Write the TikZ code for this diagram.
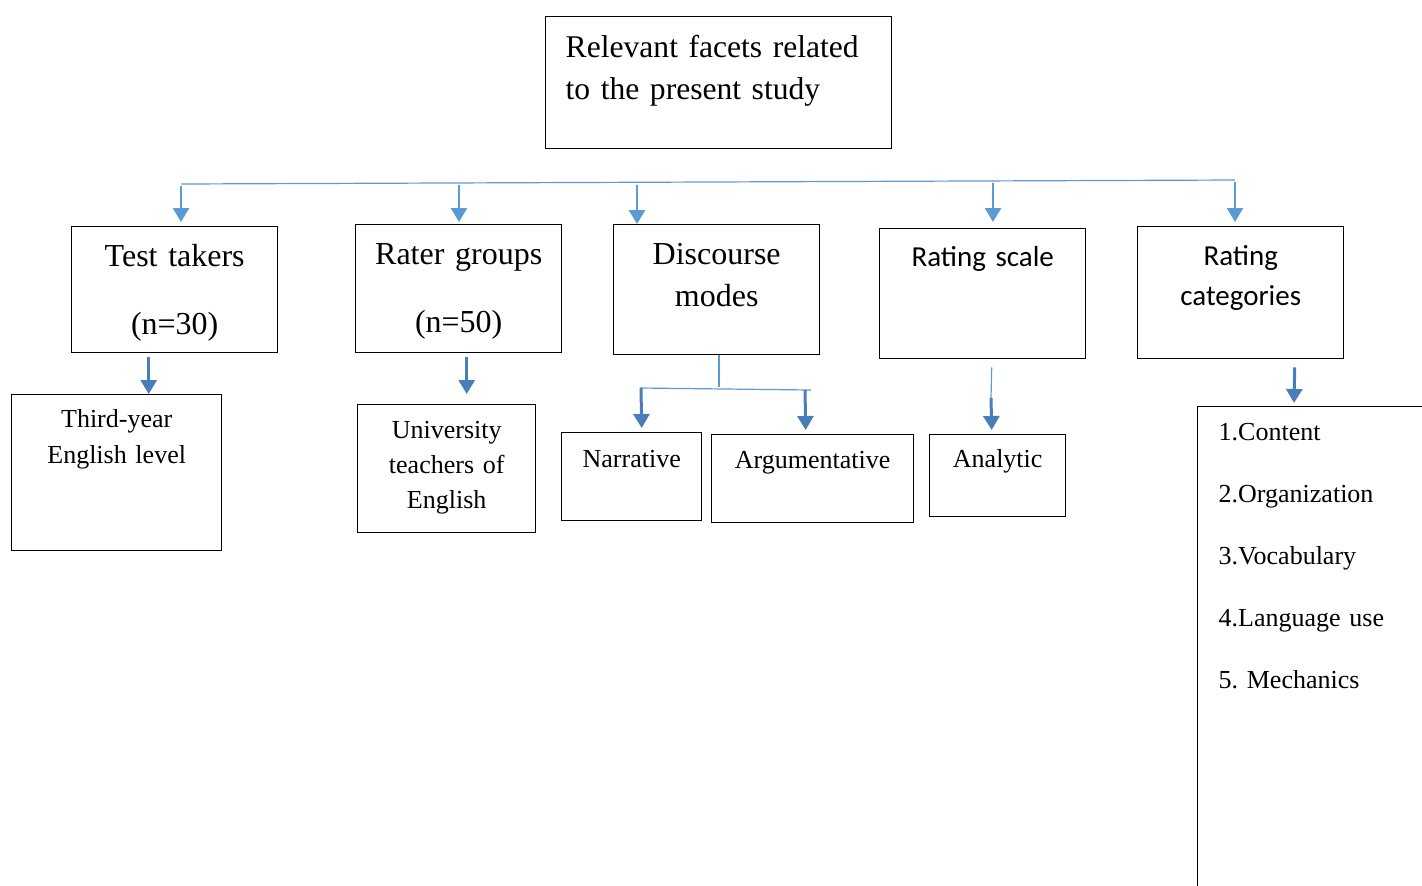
\documentclass[tikz,border=0pt]{standalone}
\usepackage{fontspec}
\setmainfont{Liberation Serif}
\newfontfamily\calibrifont{Carlito}
\usetikzlibrary{arrows.meta}
\frenchspacing

\definecolor{busblue}{HTML}{5B9BD5}
\definecolor{arrblue}{HTML}{4A7EBB}

\begin{document}
\begin{tikzpicture}[x=0.5pt, y=-0.5pt]
    \tikzset{box/.style={draw, line width=0.7pt, inner sep=0pt, anchor=north west, align=center}}
    \tikzset{bus/.style={draw=busblue, line width=0.6pt}}
    \tikzset{arrL/.style={draw=busblue, line width=1.3pt, -{Triangle[width=8pt,length=7pt]}}}
    \tikzset{arrD/.style={draw=arrblue, line width=1.5pt, -{Triangle[width=8pt,length=7pt]}}}

    \path[use as bounding box, clip] (0,0) rectangle (1422,885);

    % Top
    \node [box, align=left, inner xsep=10pt, text width=153pt, text height=20.5pt, text depth=45.5pt, font=\fontsize{15.8}{21}\selectfont] (facets) at (545,16) {Relevant facets related\\to the present study};

    % Facets
    \node [box, text width=103pt, text height=20pt, text depth=43pt, font=\fontsize{16}{18}\selectfont] (tt) at (71,226) {Test takers\\[16pt](n=30)};
    \node [box, text width=103pt, text height=20pt, text depth=44pt, font=\fontsize{16}{18}\selectfont] (rg) at (355,224) {Rater groups\\[16pt](n=50)};
    \node [box, text width=103pt, text height=20pt, text depth=45pt, font=\fontsize{16}{21}\selectfont] (dm) at (613,224) {Discourse\\modes};
    \node [box, text width=103pt, text height=19pt, text depth=46pt, font=\calibrifont\fontsize{14.5}{20}\selectfont] (rs) at (879,228) {Rating scale};
    \node [box, text width=103pt, text height=19.5pt, text depth=46.5pt, font=\calibrifont\fontsize{14.5}{20}\selectfont] (rc) at (1137,226) {Rating\\categories};

    % Details
    \node [box, text width=105pt, text height=16.5pt, text depth=61.5pt, font=\fontsize{13}{18}\selectfont] (ty) at (11,394) {Third-year\\English level};
    \node [box, text width=89pt, text height=17pt, text depth=47pt, font=\fontsize{13}{17.5}\selectfont] (un) at (357,404) {University\\teachers of\\English};
    \node [box, text width=70pt, text height=17.5pt, text depth=26.5pt, font=\fontsize{13}{16}\selectfont] (na) at (561,432) {Narrative};
    \node [box, text width=101pt, text height=17pt, text depth=27pt, font=\fontsize{13}{16}\selectfont] (ar) at (711,434) {Argumentative};
    \node [box, text width=68pt, text height=16.5pt, text depth=24.5pt, font=\fontsize{13}{16}\selectfont] (an) at (929,434) {Analytic};
    \node [box, align=left, inner xsep=10.5pt, text width=110pt, text height=17pt, text depth=230pt, font=\fontsize{13}{31}\selectfont] (cl) at (1197,406) {1.Content\\2.Organization\\3.Vocabulary\\4.Language use\\5. Mechanics};

    % Bus
    \coordinate (b1) at (181,186);
    \coordinate (b2) at (459,185);
    \coordinate (b3) at (637,185);
    \coordinate (b4) at (993,183);
    \coordinate (b5) at (1235,182);
    \draw [bus] ([yshift=1pt]b1) -- ([yshift=1pt]b5);
    \draw [arrL] (b1) -- ([yshift=2pt]b1 |- tt.north);
    \draw [arrL] (b2) -- ([yshift=1pt]b2 |- rg.north);
    \draw [arrL] (b3) -- ([yshift=0pt]b3 |- dm.north);
    \draw [arrL] (b4) -- ([yshift=3pt]b4 |- rs.north);
    \draw [arrL] (b5) -- ([yshift=2pt]b5 |- rc.north);

    % Down arrows
    \draw [arrD] ([xshift=-13pt,yshift=-2pt]tt.south) -- ([xshift=16pt]ty.north);
    \draw [arrD] ([xshift=4pt,yshift=-2pt]rg.south) -- ([xshift=10pt,yshift=5pt]un.north);

    \coordinate (dmJ) at (719,387);
    \coordinate (sp1) at (640,388);
    \coordinate (sp2) at (811,390);
    \draw [bus] (dm.south -| dmJ) -- (dmJ);
    \draw [bus] (sp1) -- (sp2);
    \draw [arrD] ([xshift=0.5pt]sp1) -- ([xshift=5pt,yshift=2pt]na.north);
    \draw [arrD] ([xshift=-3pt]sp2) -- ([xshift=-3.5pt,yshift=2pt]ar.north);

    \coordinate (rsJ) at (991,398);
    \draw [bus] ([xshift=4.5pt,yshift=-4pt]rs.south) -- (rsJ);
    \draw [arrD] (rsJ) -- ([xshift=-3pt,yshift=2pt]an.north);

    \draw [arrD] ([xshift=27pt,yshift=-4pt]rc.south) -- ([xshift=48.5pt,yshift=1.5pt]cl.north west);
\end{tikzpicture}
\end{document}
